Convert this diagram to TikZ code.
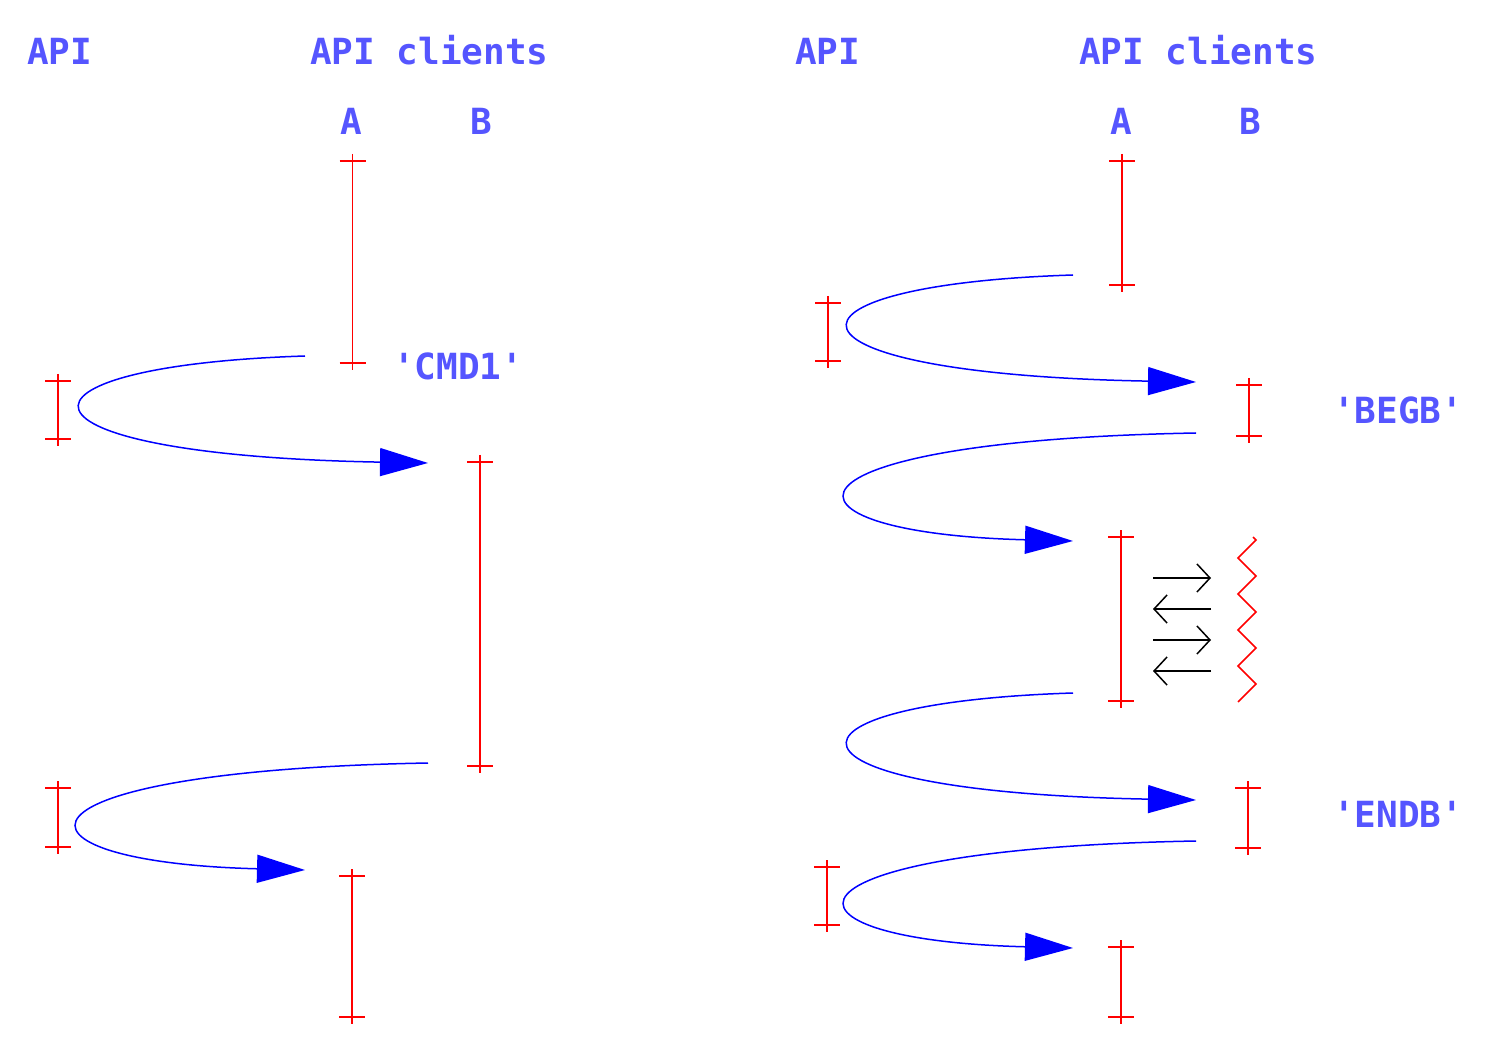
\documentclass[tikz,border=0pt]{standalone}
\usepackage{fontspec}
\setmonofont{DejaVu Sans Mono}
\usetikzlibrary{arrows.meta}
\definecolor{lbl}{RGB}{85,85,255}
\tikzset{
  lab/.style={font=\ttfamily\bfseries\fontsize{36}{40}\selectfont, text=lbl, inner sep=0pt, anchor=base west},
  life/.style={draw=red, line width=1.5pt},
  call/.style={draw=blue, line width=1.5pt, -{Triangle[length=48pt,width=28pt]}},
  msg/.style={draw=black, line width=1.5pt, -{Straight Barb[length=13pt,width=28pt]}}
}
% \lifeln{name}{x}{ytop}{ybot}
\newcommand\lifeln[4]{%
  \coordinate (#1t) at (#2,#3);
  \coordinate (#1b) at (#2,#4);
  \draw[life] ([yshift=7pt]#1t) -- ([yshift=-7pt]#1b);
  \draw[life] ([xshift=-13pt]#1t) -- ([xshift=13pt]#1t);
  \draw[life] ([xshift=-13pt]#1b) -- ([xshift=13pt]#1b);
}
\begin{document}
\begin{tikzpicture}[x=1pt,y=-1pt]
\useasboundingbox (0,0) rectangle (1492,1064);
% ---------- left diagram ----------
\node[lab] (lapi) at (27,65) {API};
\node[lab] (lcli) at (310,65) {API clients};
\node[lab] (la) at (340,135) {A};
\node[lab] (lb) at (470,135) {B};
\node[lab] (cmd) at (393,380) {'CMD1'};
\lifeln{lA1}{352.5}{161}{363}
\lifeln{lP1}{58}{381}{439}
\lifeln{lB1}{480}{462}{766}
\lifeln{lP2}{58}{788}{847}
\lifeln{lA2}{352}{876}{1017}
\coordinate (l1s) at (305,356);
\coordinate (l1e) at (428,463);
\coordinate (l2s) at (428,763);
\coordinate (l2e) at (305,870);
\draw[call] (l1s) .. controls +(-314,10) and +(-437,-8) .. (l1e);
\draw[call] (l2s) .. controls +(-437,8) and +(-314,-8) .. (l2e);
% ---------- right diagram ----------
\node[lab] (rapi) at (795,65) {API};
\node[lab] (rcli) at (1079,65) {API clients};
\node[lab] (ra) at (1110,135) {A};
\node[lab] (rb) at (1239,135) {B};
\node[lab] (begb) at (1333,424) {'BEGB'};
\node[lab] (endb) at (1333,827) {'ENDB'};
\lifeln{rA1}{1122}{161}{285}
\lifeln{rP1}{828}{303}{361}
\lifeln{rB1}{1249}{385}{436}
\lifeln{rA2}{1121}{537}{701}
\lifeln{rB2}{1248}{788}{848}
\lifeln{rP2}{827}{867}{925}
\lifeln{rA3}{1121}{947}{1017}
\coordinate (r1s) at (1073,275);
\coordinate (r1e) at (1196,382);
\coordinate (r2s) at (1196,433);
\coordinate (r2e) at (1073,541);
\coordinate (r3s) at (1073,693);
\coordinate (r3e) at (1196,800);
\coordinate (r4s) at (1196,841);
\coordinate (r4e) at (1073,948);
\draw[call] (r1s) .. controls +(-314,10) and +(-437,-8) .. (r1e);
\draw[call] (r2s) .. controls +(-437,8) and +(-314,-8) .. (r2e);
\draw[call] (r3s) .. controls +(-314,10) and +(-437,-8) .. (r3e);
\draw[call] (r4s) .. controls +(-437,8) and +(-314,-8) .. (r4e);
% messages
\coordinate (m1a) at (1153,578); \coordinate (m1b) at (1211,578);
\coordinate (m2a) at (1211,609); \coordinate (m2b) at (1153,609);
\coordinate (m3a) at (1153,640); \coordinate (m3b) at (1211,640);
\coordinate (m4a) at (1211,671); \coordinate (m4b) at (1153,671);
\draw[msg] (m1a) -- (m1b);
\draw[msg] (m2a) -- (m2b);
\draw[msg] (m3a) -- (m3b);
\draw[msg] (m4a) -- (m4b);
% zigzag
\draw[life, line join=miter] (1253,537) -- (1256,540) -- (1238,558) -- (1256,576) -- (1238,594) -- (1256,612) -- (1238,630) -- (1256,648) -- (1238,666) -- (1256,684) -- (1238,702);
\end{tikzpicture}
\end{document}
